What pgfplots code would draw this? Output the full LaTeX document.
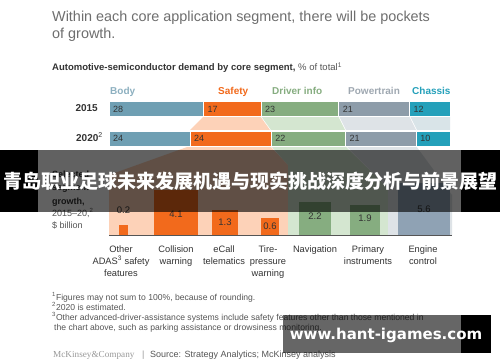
\documentclass[border=0pt]{standalone}
\usepackage{pgfplots}
\pgfplotsset{compat=1.18}
\usepackage{fontspec}
\setmainfont{Liberation Sans}
\newfontfamily\seriffont{Liberation Serif}
\newfontfamily\cjk{Noto Sans CJK SC}
\newfontfamily\wmfont{DejaVu Sans}
\definecolor{cBody}{HTML}{6F9FB3}
\definecolor{cSafety}{HTML}{F26A1C}
\definecolor{cDriver}{HTML}{86AD80}
\definecolor{cPower}{HTML}{8D9CA9}
\definecolor{cChassis}{HTML}{24A0BA}
\definecolor{lBody}{HTML}{8DB0C0}
\definecolor{lPower}{HTML}{9FA8B1}
\definecolor{fanO}{HTML}{FDD2B8}
\definecolor{fanG}{HTML}{D4E6D0}
\definecolor{fanP}{HTML}{DEE3E7}
\definecolor{fanC}{HTML}{D9E4E8}
\definecolor{cEngine}{HTML}{8FA2B4}
\definecolor{titleGray}{HTML}{6E6E6E}
\definecolor{txtDark}{HTML}{333333}
\definecolor{txtMid}{HTML}{555555}
\definecolor{txtLight}{HTML}{999999}
\begin{document}
\begin{tikzpicture}
\path[fill=white] (0,0) rectangle (500pt,362pt);
\begin{scope}[x=1pt,y=-1pt,yshift=362pt]
% fans between the two stacked bars
\fill[fanO] (204,116) -- (260,116) -- (270,130) -- (190,130) -- cycle;
\fill[fanG] (261,116) -- (338,116) -- (345,130) -- (271,130) -- cycle;
\fill[fanP] (339,116) -- (409,116) -- (416,130) -- (346,130) -- cycle;
\fill[fanC] (410,116) -- (450,116) -- (450,130) -- (417,130) -- cycle;
% fans down to the segment columns
\fill[fanO] (190,146) -- (270,146) -- (288,165) -- (288,235) -- (109,235) -- (109,175) -- cycle;
\fill[fanG] (271,146) -- (345,146) -- (388,188) -- (388,235) -- (288,235) -- (288,165) -- cycle;
\fill[fanP] (346,146) -- (416,146) -- (452,195) -- (452,235) -- (388,235) -- (388,188) -- cycle;
% texts
\node[anchor=base west, inner sep=0pt, text=titleGray, font=\fontsize{14.4}{17}\selectfont] at (52,22) {Within each core application segment, there will be pockets};
\node[anchor=base west, inner sep=0pt, text=titleGray, font=\fontsize{14.4}{17}\selectfont] at (52,39) {of growth.};
\node[anchor=base west, inner sep=0pt, font=\fontsize{9.5}{11}\selectfont] at (52,71) {\textbf{\color{txtDark}Automotive-semiconductor demand by core segment,} \color{txtMid}\% of total\textsuperscript{1}};
\node[anchor=base west, inner sep=0pt, text=lBody, font=\bfseries\fontsize{10}{12}\selectfont] at (110,94.5) {Body};
\node[anchor=base west, inner sep=0pt, text=cSafety, font=\bfseries\fontsize{10}{12}\selectfont] at (218,94.5) {Safety};
\node[anchor=base west, inner sep=0pt, text=cDriver, font=\bfseries\fontsize{10}{12}\selectfont] at (272,94.5) {Driver info};
\node[anchor=base west, inner sep=0pt, text=lPower, font=\bfseries\fontsize{10}{12}\selectfont] at (348,94.5) {Powertrain};
\node[anchor=base west, inner sep=0pt, text=cChassis, font=\bfseries\fontsize{10}{12}\selectfont] at (412,94.5) {Chassis};
\node[anchor=base east, inner sep=0pt, text=txtDark, font=\bfseries\fontsize{10}{12}\selectfont] at (98,112) {2015};
\node[anchor=base east, inner sep=0pt, text=txtDark, font=\bfseries\fontsize{10}{12}\selectfont] at (103,141.5) {2020\textsuperscript{\mdseries 2}};
% left caption of the columns
\node[anchor=base west, inner sep=0pt, text=txtDark, font=\bfseries\fontsize{9}{11}\selectfont] at (52,177) {Selected};
\node[anchor=base west, inner sep=0pt, text=txtDark, font=\bfseries\fontsize{9}{11}\selectfont] at (52,190) {segment};
\node[anchor=base west, inner sep=0pt, text=txtDark, font=\bfseries\fontsize{9}{11}\selectfont] at (52,204) {growth,};
\node[anchor=base west, inner sep=0pt, text=txtMid, font=\fontsize{9}{11}\selectfont] at (52,216) {2015--20,\textsuperscript{2}};
\node[anchor=base west, inner sep=0pt, text=txtMid, font=\fontsize{9}{11}\selectfont] at (52,228) {\$ billion};
% footnotes
\node[anchor=base west, inner sep=0pt, text=txtMid, font=\fontsize{8.6}{10}\selectfont] at (52,300) {\textsuperscript{1}Figures may not sum to 100\%, because of rounding.};
\node[anchor=base west, inner sep=0pt, text=txtMid, font=\fontsize{8.6}{10}\selectfont] at (52,310) {\textsuperscript{2}2020 is estimated.};
\node[anchor=base west, inner sep=0pt, text=txtMid, font=\fontsize{8.6}{10}\selectfont] at (52,320) {\textsuperscript{3}Other advanced-driver-assistance systems include safety features other than those mentioned in};
\node[anchor=base west, inner sep=0pt, text=txtMid, font=\fontsize{8.6}{10}\selectfont] at (54,330) {the chart above, such as parking assistance or drowsiness monitoring.};
\node[anchor=base west, inner sep=0pt, text=txtLight, font=\seriffont\fontsize{9.2}{11}\selectfont] at (53,357) {McKinsey\&Company};
\node[anchor=base west, inner sep=0pt, text=txtLight, font=\fontsize{9}{11}\selectfont] at (142,357) {|};
\node[anchor=base west, inner sep=0pt, text=txtMid, font=\fontsize{9}{11}\selectfont] at (150,357) {Source: Strategy Analytics; McKinsey analysis};
\end{scope}

% stacked shares
\begin{axis}[at={(109pt,216pt)}, anchor=south west, scale only axis, width=341pt, height=44.5pt,
  xmin=0, xmax=101, ymin=-0.254, ymax=1.254, hide axis, xbar stacked, bar width=15pt, clip=false]
\addplot[fill=cBody, draw=white, line width=0.8pt] coordinates {(28,1) (24,0)};
\addplot[fill=cSafety, draw=white, line width=0.8pt] coordinates {(17,1) (24,0)};
\addplot[fill=cDriver, draw=white, line width=0.8pt] coordinates {(23,1) (22,0)};
\addplot[fill=cPower, draw=white, line width=0.8pt] coordinates {(21,1) (21,0)};
\addplot[fill=cChassis, draw=white, line width=0.8pt] coordinates {(12,1) (10,0)};
\end{axis}
\begin{axis}[at={(109pt,216pt)}, anchor=south west, scale only axis, width=341pt, height=44.5pt,
  xmin=0, xmax=101, ymin=-0.254, ymax=1.254, hide axis, clip=false]
\addplot[draw=none, mark=none, nodes near coords, point meta=explicit symbolic,
  every node near coord/.style={anchor=west, inner sep=0pt, xshift=4pt, text=txtDark, font=\fontsize{9}{10}\selectfont}]
  table[meta=lab] {
x y lab
0 1 28
28 1 17
45 1 23
68 1 21
89 1 12
0 0 24
24 0 24
48 0 22
70 0 21
91 0 10
};
\end{axis}

% growth columns (squares: side proportional to sqrt of value)
\begin{axis}[at={(0pt,127pt)}, anchor=south west, scale only axis, width=500pt, height=88pt,
  xmin=0, xmax=500, ymin=0, ymax=16,
  y coord trafo/.code={\pgfmathparse{sqrt(#1)}},
  y coord inv trafo/.code={\pgfmathparse{(#1)^2}},
  axis line style={draw=none}, ytick=\empty, major tick length=0pt,
  xtick={121,176,224,268,315,368,423},
  xticklabels={{Other\\ADAS\textsuperscript{3} safety\\features},{Collision\\warning},{eCall\\telematics},{Tire-\\pressure\\warning},{Navigation},{Primary\\instruments},{Engine\\control}},
  xticklabel style={align=center, text=txtDark, font=\fontsize{9.3}{11.8}\selectfont, anchor=north, inner sep=0pt, yshift=-11pt},
  clip=false]
\draw[color=txtMid, line width=0.8pt] (axis cs:109,0) -- (axis cs:452,0);
\addplot[ybar, bar shift=0pt, bar width=9.84pt, fill=cSafety, draw=none, nodes near coords, point meta=explicit symbolic,
  every node near coord/.style={anchor=south, yshift=8pt, text=txtDark, font=\fontsize{9.5}{11}\selectfont}] coordinates {(123.5,0.2) [0.2]};
\addplot[ybar, bar shift=0pt, bar width=44.55pt, fill=cSafety, draw=none, nodes near coords, point meta=explicit symbolic,
  every node near coord/.style={anchor=center, yshift=-24pt, text=txtDark, font=\fontsize{9.5}{11}\selectfont}] coordinates {(176,4.1) [4.1]};
\addplot[ybar, bar shift=0pt, bar width=25.08pt, fill=cSafety, draw=none, nodes near coords, point meta=explicit symbolic,
  every node near coord/.style={anchor=center, yshift=-12.5pt, text=txtDark, font=\fontsize{9.5}{11}\selectfont}] coordinates {(225,1.3) [1.3]};
\addplot[ybar, bar shift=0pt, bar width=17.04pt, fill=cSafety, draw=none, nodes near coords, point meta=explicit symbolic,
  every node near coord/.style={anchor=center, yshift=-8.5pt, text=txtDark, font=\fontsize{9.5}{11}\selectfont}] coordinates {(270,0.6) [0.6]};
\addplot[ybar, bar shift=0pt, bar width=32.63pt, fill=cDriver, draw=none, nodes near coords, point meta=explicit symbolic,
  every node near coord/.style={anchor=center, yshift=-13.5pt, text=txtDark, font=\fontsize{9.5}{11}\selectfont}] coordinates {(315,2.2) [2.2]};
\addplot[ybar, bar shift=0pt, bar width=30.33pt, fill=cDriver, draw=none, nodes near coords, point meta=explicit symbolic,
  every node near coord/.style={anchor=center, yshift=-13.5pt, text=txtDark, font=\fontsize{9.5}{11}\selectfont}] coordinates {(365,1.9) [1.9]};
\addplot[ybar, bar shift=0pt, bar width=52.06pt, fill=cEngine, draw=none, nodes near coords, point meta=explicit symbolic,
  every node near coord/.style={anchor=center, yshift=-26pt, text=txtDark, font=\fontsize{9.5}{11}\selectfont}] coordinates {(424,5.6) [5.6]};
\end{axis}

% overlays
\begin{scope}[x=1pt,y=-1pt,yshift=362pt]
\fill[black] (0,150) rectangle (38,212);
\fill[black] (461,150) rectangle (500,212);
\fill[black, opacity=0.62] (38,150) rectangle (461,212);
\node[text=white, inner sep=0pt, font=\cjk\bfseries\fontsize{19}{19}\selectfont] at (250,181.5) {青岛职业足球未来发展机遇与现实挑战深度分析与前景展望};
\fill[black, opacity=0.6] (283,315) rectangle (461,353);
\fill[black] (461,315) rectangle (491,353);
\node[text=white, inner sep=0pt, font=\wmfont\bfseries\fontsize{15}{15}\selectfont] at (386,335) {www.hant-igames.com};
\end{scope}
\end{tikzpicture}
\end{document}
